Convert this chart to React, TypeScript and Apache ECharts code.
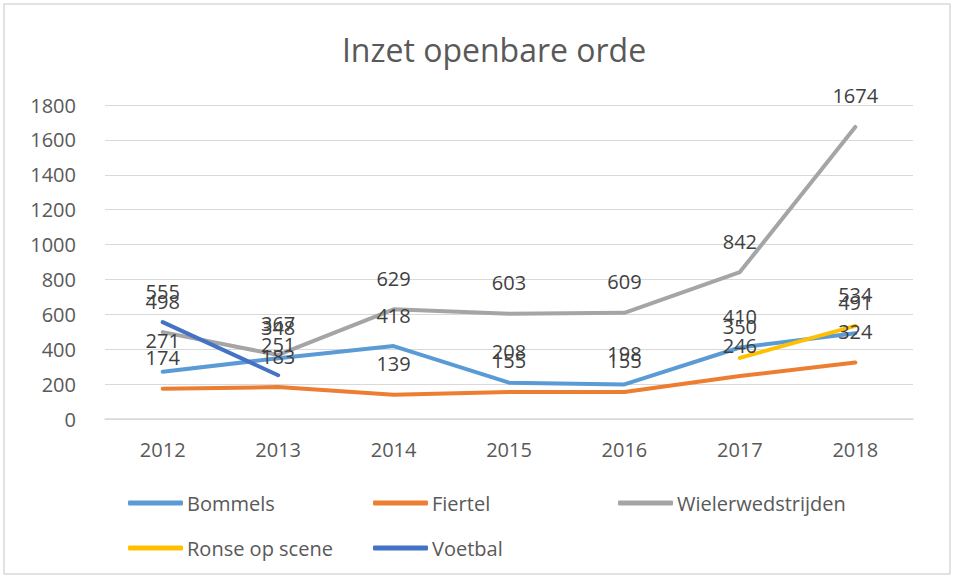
import React, { useEffect, useRef } from "react";
import * as echarts from "echarts";

const years = ["2012", "2013", "2014", "2015", "2016", "2017", "2018"];
const bommels = [271, 348, 418, 208, 198, 410, 491];
const fiertel = [174, 183, 139, 155, 155, 246, 324];
const wieler = [498, 367, 629, 603, 609, 842, 1674];
const ronse = [null, null, null, null, null, 350, 534];
const voetbal = [555, 251, null, null, null, null, null];

const seriesDefs = [
  { name: "Bommels", data: bommels, color: "#5B9BD5" },
  { name: "Fiertel", data: fiertel, color: "#ED7D31" },
  { name: "Wielerwedstrijden", data: wieler, color: "#A5A5A5" },
  { name: "Ronse op scene", data: ronse, color: "#FFC000" },
  { name: "Voetbal", data: voetbal, color: "#4472C4" },
];

const legendPos = [
  { left: 123, top: 488 },
  { left: 368, top: 488 },
  { left: 613, top: 488 },
  { left: 123, top: 533 },
  { left: 368, top: 533 },
];

const FONT = "'Open Sans', 'Noto Sans', sans-serif";

export default function App() {
  const ref = useRef<HTMLDivElement>(null);
  useEffect(() => {
    if (!ref.current) return;
    const chart = echarts.init(ref.current, null, { renderer: "svg" });
    chart.setOption({
      animation: false,
      backgroundColor: "#ffffff",
      textStyle: { fontFamily: FONT },
      title: {
        text: "Inzet openbare orde",
        left: 489,
        top: 28,
        textAlign: "center",
        textStyle: { fontSize: 32, fontWeight: "normal", color: "#595959", fontFamily: FONT },
      },
      graphic: [
        {
          type: "rect",
          shape: { x: 4, y: 4, width: 946, height: 570 },
          style: { fill: "none", stroke: "#d9d9d9", lineWidth: 1.5 },
          silent: true,
        },
      ],
      legend: seriesDefs.map((s, i) => ({
        data: [s.name],
        left: legendPos[i].left,
        top: legendPos[i].top,
        icon: "roundRect",
        itemWidth: 55,
        itemHeight: 5,
        itemGap: 0,
        textStyle: { fontSize: 20, color: "#595959", fontFamily: FONT, padding: [0, 0, 0, -1] },
      })),
      grid: { left: 105, right: 44, top: 105, bottom: 159 },
      xAxis: {
        type: "category",
        data: years,
        boundaryGap: true,
        axisLine: { show: true, lineStyle: { color: "#d9d9d9", width: 1.5 } },
        axisTick: { show: false },
        axisLabel: { fontSize: 20, color: "#595959", margin: 20, fontFamily: FONT },
      },
      yAxis: {
        type: "value",
        min: 0,
        max: 1800,
        interval: 200,
        axisLine: { show: false },
        axisTick: { show: false },
        splitLine: { lineStyle: { color: "#d9d9d9", width: 1.2 } },
        axisLabel: {
          fontSize: 20,
          color: "#595959",
          margin: 29,
          fontFamily: FONT,
          formatter: (v: number) => String(v),
        },
      },
      series: seriesDefs.map((s) => ({
        name: s.name,
        type: "line",
        data: s.data,
        color: s.color,
        symbol: "circle",
        symbolSize: 0,
        showSymbol: true,
        connectNulls: false,
        lineStyle: { color: s.color, width: 4, cap: "round", join: "round" },
        itemStyle: { color: s.color },
        label: {
          show: true,
          position: "top",
          distance: 21,
          fontSize: 20,
          color: "#404040",
          fontFamily: FONT,
        },
      })),
    });
    return () => chart.dispose();
  }, []);
  return (
    <div
      ref={ref}
      style={{ position: "fixed", left: 0, top: 0, width: 957, height: 578 }}
    />
  );
}
